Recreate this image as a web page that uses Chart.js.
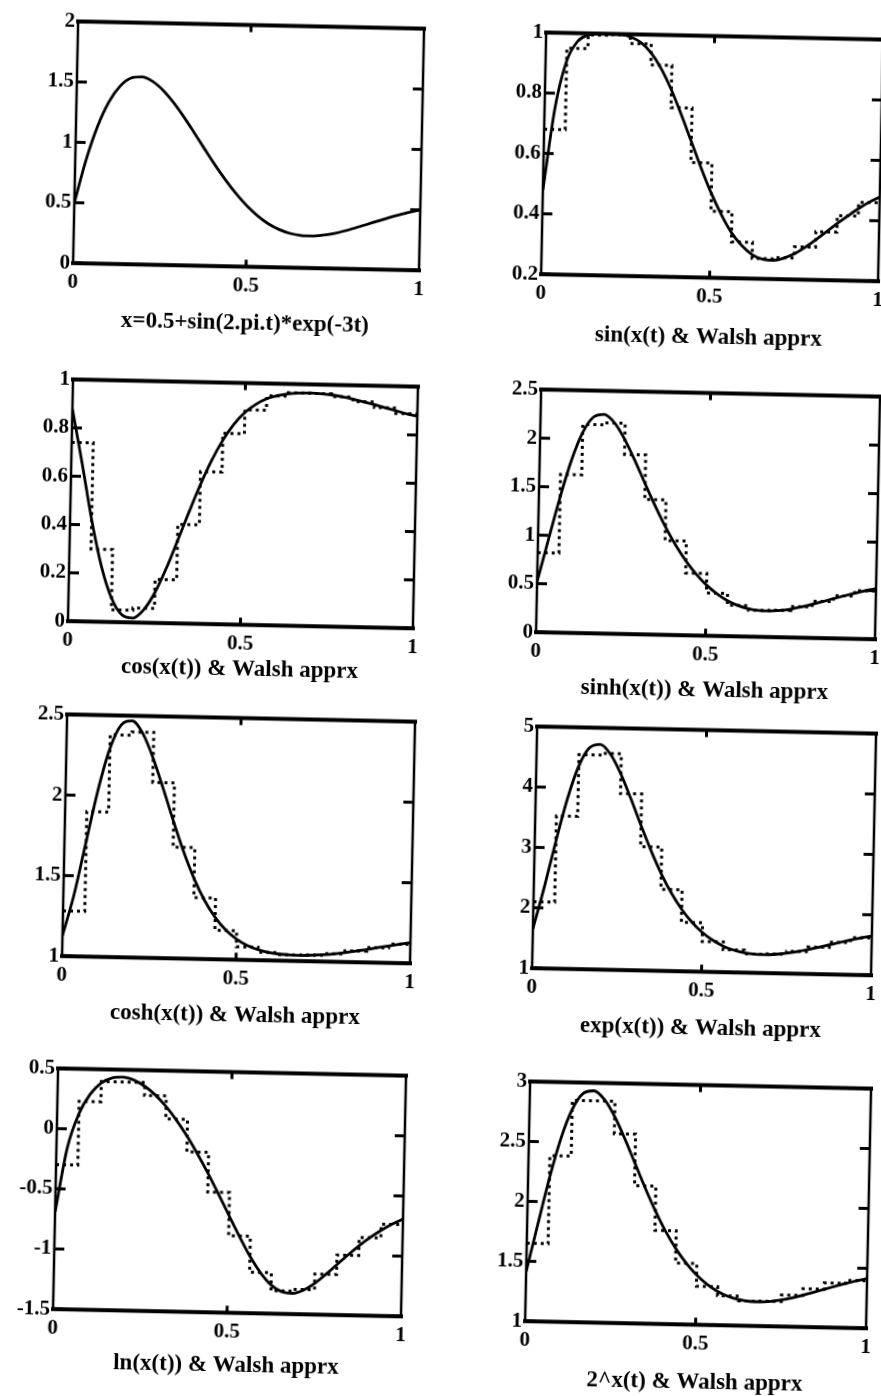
<!DOCTYPE html>
<html>
<head>
<meta charset="utf-8">
<title>Walsh approximations of x(t)</title>
<script src="https://cdn.jsdelivr.net/npm/chart.js@4.4.1/dist/chart.umd.min.js"></script>
<style>
  html, body { margin: 0; padding: 0; background: #fff; }
  body { width: 881px; height: 1396px; position: relative; overflow: hidden; }
  canvas { position: absolute; transform: rotate(1.2deg); }
</style>
</head>
<body>
<script>
// sample times for the smooth curves (1/32 apart) and Walsh block edges (1/16 apart)
const tSamples = [0, 0.03125, 0.0625, 0.09375, 0.125, 0.15625, 0.1875, 0.21875, 0.25, 0.28125, 0.3125,
  0.34375, 0.375, 0.40625, 0.4375, 0.46875, 0.5, 0.53125, 0.5625, 0.59375, 0.625, 0.65625, 0.6875,
  0.71875, 0.75, 0.78125, 0.8125, 0.84375, 0.875, 0.90625, 0.9375, 0.96875, 1];
const tSteps = [0, 0.0625, 0.125, 0.1875, 0.25, 0.3125, 0.375, 0.4375, 0.5, 0.5625, 0.625, 0.6875,
  0.75, 0.8125, 0.875, 0.9375, 1];

const xCurve = [0.5, 0.855, 1.135, 1.339, 1.472, 1.541, 1.553, 1.518, 1.445, 1.344, 1.224, 1.093, 0.959,
  0.828, 0.706, 0.596, 0.5, 0.421, 0.358, 0.313, 0.283, 0.268, 0.265, 0.273, 0.289, 0.312, 0.339, 0.368,
  0.398, 0.427, 0.454, 0.479, 0.5];
const sinCurve = [0.479, 0.754, 0.907, 0.973, 0.995, 1.0, 1.0, 0.999, 0.992, 0.974, 0.94, 0.888, 0.819,
  0.737, 0.649, 0.561, 0.479, 0.409, 0.35, 0.308, 0.279, 0.265, 0.262, 0.27, 0.285, 0.307, 0.333, 0.36,
  0.388, 0.414, 0.439, 0.461, 0.479];
const cosCurve = [0.878, 0.656, 0.422, 0.229, 0.098, 0.03, 0.018, 0.053, 0.125, 0.225, 0.341, 0.46, 0.574,
  0.676, 0.761, 0.828, 0.878, 0.913, 0.937, 0.951, 0.96, 0.964, 0.965, 0.963, 0.959, 0.952, 0.943, 0.933,
  0.922, 0.91, 0.899, 0.887, 0.878];
const sinhCurve = [0.521, 0.963, 1.395, 1.777, 2.064, 2.228, 2.257, 2.172, 2.003, 1.787, 1.553, 1.324, 1.113,
  0.926, 0.766, 0.632, 0.521, 0.434, 0.366, 0.318, 0.287, 0.271, 0.268, 0.276, 0.293, 0.317, 0.346, 0.376,
  0.409, 0.44, 0.47, 0.498, 0.521];
const coshCurve = [1.128, 1.388, 1.716, 2.039, 2.294, 2.442, 2.469, 2.391, 2.239, 2.048, 1.847, 1.659, 1.496,
  1.363, 1.26, 1.183, 1.128, 1.09, 1.065, 1.049, 1.04, 1.036, 1.035, 1.038, 1.042, 1.049, 1.058, 1.069,
  1.08, 1.093, 1.105, 1.117, 1.128];
const expCurve = [1.649, 2.351, 3.111, 3.815, 4.358, 4.669, 4.726, 4.563, 4.242, 3.834, 3.401, 2.983, 2.609,
  2.289, 2.026, 1.815, 1.649, 1.524, 1.431, 1.368, 1.327, 1.307, 1.304, 1.314, 1.335, 1.366, 1.404, 1.445,
  1.489, 1.533, 1.575, 1.614, 1.649];
const lnCurve = [-0.693, -0.157, 0.127, 0.292, 0.387, 0.432, 0.44, 0.417, 0.368, 0.296, 0.202, 0.089, -0.042,
  -0.189, -0.348, -0.518, -0.693, -0.865, -1.027, -1.162, -1.262, -1.317, -1.328, -1.298, -1.241, -1.165,
  -1.082, -1.0, -0.921, -0.851, -0.79, -0.736, -0.693];
const pow2Curve = [1.414, 1.809, 2.196, 2.53, 2.774, 2.91, 2.934, 2.864, 2.723, 2.539, 2.336, 2.133, 1.944,
  1.775, 1.631, 1.512, 1.414, 1.339, 1.282, 1.242, 1.217, 1.204, 1.202, 1.208, 1.222, 1.241, 1.265, 1.291,
  1.318, 1.344, 1.37, 1.394, 1.414];

// 16-term Walsh approximations, one value per block
const sinWalsh = [0.68, 0.95, 0.995, 0.998, 0.97, 0.9, 0.76, 0.58, 0.42, 0.32, 0.267, 0.271, 0.308, 0.36, 0.414, 0.46];
const cosWalsh = [0.74, 0.3, 0.05, 0.06, 0.18, 0.41, 0.63, 0.79, 0.89, 0.95, 0.964, 0.963, 0.952, 0.933, 0.91, 0.888];
const sinhWalsh = [0.82, 1.63, 2.15, 2.17, 1.85, 1.39, 0.97, 0.64, 0.44, 0.32, 0.273, 0.278, 0.318, 0.377, 0.44, 0.497];
const coshWalsh = [1.28, 1.9, 2.38, 2.4, 2.09, 1.69, 1.38, 1.18, 1.08, 1.05, 1.037, 1.038, 1.049, 1.069, 1.093, 1.117];
const expWalsh = [2.1, 3.53, 4.55, 4.58, 3.92, 3.05, 2.35, 1.81, 1.5, 1.371, 1.31, 1.316, 1.367, 1.445, 1.532, 1.614];
const lnWalsh = [-0.3, 0.23, 0.4, 0.4, 0.29, 0.1, -0.17, -0.5, -0.86, -1.16, -1.31, -1.294, -1.164, -1.001, -0.853, -0.738];
const pow2Walsh = [1.65, 2.385, 2.85, 2.85, 2.58, 2.15, 1.78, 1.51, 1.32, 1.245, 1.206, 1.209, 1.262, 1.318, 1.37, 1.397];

// per-panel axis ranges
const yRanges = [[0, 2, 0.5], [0.2, 1, 0.2], [0, 1, 0.2], [0, 2.5, 0.5], [1, 2.5, 0.5], [1, 5, 1], [-1.5, 0.5, 0.5], [1, 3, 0.5]];
const titles = ['x=0.5+sin(2.pi.t)*exp(-3t)', 'sin(x(t) & Walsh apprx', 'cos(x(t)) & Walsh apprx',
  'sinh(x(t)) & Walsh apprx', 'cosh(x(t)) & Walsh apprx', 'exp(x(t)) & Walsh apprx',
  'ln(x(t)) & Walsh apprx', '2^x(t) & Walsh apprx'];

// plot boxes on the page: left, top, right, bottom, gap from axis to title centre
const boxes = [
  [75, 23, 421, 266, 57], [543, 34, 880, 277, 60],
  [70, 381, 415, 624, 45], [538, 391, 877, 635, 55],
  [64, 716, 412, 959, 56], [534, 728, 873, 971, 57],
  [55, 1070, 403, 1312, 53], [527, 1083, 868, 1324, 58]
];

const panels = [
  [xCurve, null], [sinCurve, sinWalsh], [cosCurve, cosWalsh], [sinhCurve, sinhWalsh],
  [coshCurve, coshWalsh], [expCurve, expWalsh], [lnCurve, lnWalsh], [pow2Curve, pow2Walsh]
];

const Y_AXIS_W = 62, PAD_TOP = 14, PAD_RIGHT = 14;
const TICK_FONT = { family: "'Liberation Serif', 'DejaVu Serif', serif", size: 21, weight: 'bold' };
const TITLE_FONT = { family: "'Liberation Serif', 'DejaVu Serif', serif", size: 23, weight: 'bold', lineHeight: 1.2 };

Chart.defaults.color = '#000';
Chart.defaults.font = TICK_FONT;

const fmt = v => String(Math.round(v * 100) / 100);

// box frame (heavy top/bottom rules) and inward tick marks
const frameTicks = {
  id: 'frameTicks',
  afterDatasetsDraw(chart) {
    const { ctx, chartArea: a, scales: { x, y } } = chart;
    const seg = (x1, y1, x2, y2) => { ctx.beginPath(); ctx.moveTo(x1, y1); ctx.lineTo(x2, y2); ctx.stroke(); };
    ctx.save();
    ctx.strokeStyle = '#000';
    ctx.lineCap = 'square';
    ctx.lineWidth = 4;
    seg(a.left, a.top, a.right, a.top);
    seg(a.left, a.bottom, a.right, a.bottom);
    ctx.lineWidth = 2.5;
    seg(a.left, a.top, a.left, a.bottom);
    seg(a.right, a.top, a.right, a.bottom);
    ctx.lineWidth = 3;
    ctx.lineCap = 'butt';
    y.ticks.forEach(tk => {
      const py = y.getPixelForValue(tk.value);
      seg(a.left, py, a.left + 10, py);
      seg(a.right - 10, py, a.right, py);
    });
    const px = x.getPixelForValue(0.5);
    seg(px, a.bottom, px, a.bottom - 7);
    seg(px, a.top, px, a.top + 7);
    ctx.restore();
  }
};

panels.forEach(([curve, walsh], i) => {
  const [L, T, R, B, gap] = boxes[i];
  const [yMin, yMax, yStep] = yRanges[i];
  const xAxisH = gap + TITLE_FONT.size * TITLE_FONT.lineHeight / 2;

  const canvas = document.createElement('canvas');
  canvas.width = (R - L) + Y_AXIS_W + PAD_RIGHT;
  canvas.height = PAD_TOP + (B - T) + Math.round(xAxisH);
  canvas.style.left = (L - Y_AXIS_W) + 'px';
  canvas.style.top = (T - PAD_TOP) + 'px';
  document.body.appendChild(canvas);

  const datasets = [{
    data: tSamples.map((t, k) => ({ x: t, y: curve[k] })),
    borderColor: '#000',
    borderWidth: 2.8,
    pointRadius: 0,
    cubicInterpolationMode: 'monotone'
  }];
  if (walsh) {
    // last block value is repeated at t = 1 so the final step is drawn
    const vals = walsh.concat([walsh[walsh.length - 1]]);
    datasets.push({
      data: tSteps.map((t, k) => ({ x: t, y: vals[k] })),
      borderColor: '#000',
      borderWidth: 3,
      borderDash: [3, 4],
      pointRadius: 0,
      stepped: 'before'
    });
  }

  new Chart(canvas, {
    type: 'line',
    data: { datasets },
    options: {
      responsive: false,
      animation: false,
      devicePixelRatio: 1,
      layout: { padding: { top: PAD_TOP, right: PAD_RIGHT, left: 0, bottom: 0 } },
      plugins: { legend: { display: false }, tooltip: { enabled: false } },
      scales: {
        x: {
          type: 'linear', min: 0, max: 1,
          grid: { display: false, drawTicks: false },
          border: { display: false },
          ticks: { stepSize: 0.5, padding: 7, maxRotation: 0, callback: fmt },
          title: { display: true, text: titles[i], font: TITLE_FONT, padding: 0 },
          afterFit: s => { s.height = xAxisH; }
        },
        y: {
          min: yMin, max: yMax,
          grid: { display: false, drawTicks: false },
          border: { display: false },
          ticks: { stepSize: yStep, padding: 3, callback: fmt },
          afterFit: s => { s.width = Y_AXIS_W; }
        }
      }
    },
    plugins: [frameTicks]
  });
});
</script>
</body>
</html>
